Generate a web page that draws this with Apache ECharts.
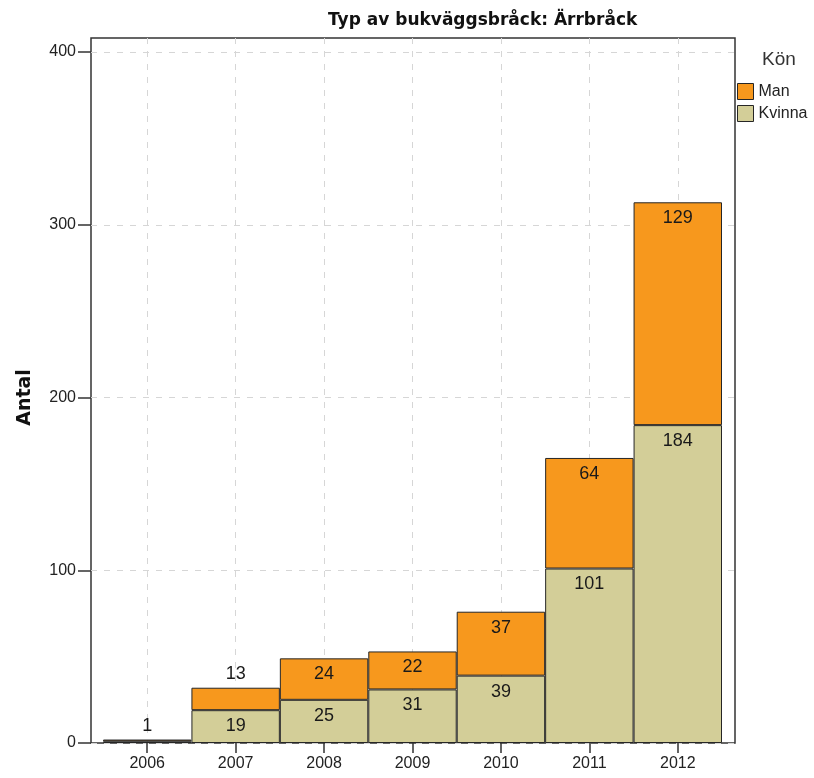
<!DOCTYPE html>
<html>
<head>
<meta charset="utf-8">
<title>Typ av bukväggsbråck: Ärrbråck</title>
<script src="https://cdn.jsdelivr.net/npm/echarts@6/dist/echarts.min.js"></script>
<style>
  html, body { margin: 0; padding: 0; background: #fff; }
  #chart { width: 814px; height: 778px; }
</style>
</head>
<body>
<div id="chart"></div>
<script>
  // data
  const years = ['2006', '2007', '2008', '2009', '2010', '2011', '2012'];
  const kvinna = [1, 19, 25, 31, 39, 101, 184];
  const man = [1, 13, 24, 22, 37, 64, 129];
  const yMin = 0;
  const yMax = 400;
  const yStep = 100;

  const orange = '#f7981d';
  const khaki = '#d3ce98';
  const edge = '#262626';
  const gridLine = { type: [6, 7], width: 1, color: '#d6d6d6' };

  // the plot frame runs a bit above the last tick (400 -> ~408)
  const frameTop = 38, tickTop = 52, plotBottom = 35;
  const frameMax = yMax * (778 - plotBottom - frameTop) / (778 - plotBottom - tickTop);

  // segment labels: inside top; the top segment goes above the bar when too thin,
  // a thin lower segment gets no label
  function segLabels(vals, onTop) {
    return vals.map(v => {
      const item = { value: v };
      if (onTop && v < 18) {
        item.label = { position: 'top', distance: 5 };
      } else if (!onTop && v < 5) {
        item.label = { show: false };
      }
      return item;
    });
  }

  const labelStyle = {
    show: true,
    position: 'insideTop',
    distance: 7,
    color: '#1a1a1a',
    fontSize: 18,
    fontFamily: 'Liberation Sans, Arial, sans-serif'
  };

  const chart = echarts.init(document.getElementById('chart'));
  const option = {
    backgroundColor: '#fff',
    animation: false,
    title: [{
      text: 'Typ av bukväggsbråck: Ärrbråck',
      left: 323,
      top: 7,
      textStyle: { fontFamily: 'DejaVu Sans', fontWeight: 'bold', fontSize: 17, color: '#111' }
    }, {
      text: 'Kön',
      left: 757,
      top: 45,
      textStyle: { fontFamily: 'Liberation Sans, Arial', fontWeight: 'normal', fontSize: 19, color: '#333' }
    }],
    legend: {
      data: ['Man', 'Kvinna'],
      orient: 'vertical',
      left: 732,
      top: 78,
      itemWidth: 16,
      itemHeight: 16,
      itemGap: 5,
      icon: 'rect',
      textStyle: { fontFamily: 'Liberation Sans, Arial', fontSize: 16, color: '#222' },
      itemStyle: { borderColor: edge, borderWidth: 1 }
    },
    grid: [
      // frame
      { left: 91, right: 79, top: frameTop, bottom: plotBottom, show: true, borderColor: '#333', borderWidth: 1.5 },
      // y axis with ticks 0..400
      { left: 91, right: 79, top: tickTop, bottom: plotBottom },
      // bars, inset from the frame
      { left: 103, right: 92, top: frameTop, bottom: plotBottom }
    ],
    xAxis: [
      { gridIndex: 0, type: 'value', show: false },
      { gridIndex: 1, type: 'value', show: false },
      {
        gridIndex: 2,
        type: 'category',
        data: years,
        axisLine: { show: false },
        axisTick: { show: true, alignWithLabel: true, length: 10, lineStyle: { color: '#333', width: 1.5 } },
        axisLabel: { margin: 13, color: '#222', fontSize: 16, fontFamily: 'Liberation Sans, Arial' },
        splitLine: { show: true, alignWithLabel: true, lineStyle: gridLine }
      }
    ],
    yAxis: [
      { gridIndex: 0, type: 'value', show: false, min: 0, max: 1 },
      {
        gridIndex: 1,
        type: 'value',
        min: yMin,
        max: yMax,
        interval: yStep,
        name: 'Antal',
        nameLocation: 'middle',
        nameGap: 56,
        nameTextStyle: { fontFamily: 'DejaVu Sans', fontWeight: 'bold', fontSize: 19, color: '#111' },
        axisLine: { show: false },
        axisTick: { show: true, length: 13, lineStyle: { color: '#333', width: 1.5 } },
        axisLabel: { margin: 15, color: '#222', fontSize: 16, fontFamily: 'Liberation Sans, Arial' },
        splitLine: { show: true, lineStyle: gridLine }
      },
      { gridIndex: 2, type: 'value', show: false, min: yMin, max: frameMax }
    ],
    series: [{
      name: 'Kvinna',
      type: 'bar',
      stack: 'kon',
      xAxisIndex: 2,
      yAxisIndex: 2,
      barWidth: '100%',
      data: segLabels(kvinna, false),
      itemStyle: { color: khaki, borderColor: edge, borderWidth: 1 },
      label: labelStyle
    }, {
      name: 'Man',
      type: 'bar',
      stack: 'kon',
      xAxisIndex: 2,
      yAxisIndex: 2,
      barWidth: '100%',
      data: segLabels(man, true),
      itemStyle: { color: orange, borderColor: edge, borderWidth: 1 },
      label: labelStyle
    }]
  };
  chart.setOption(option);
</script>
</body>
</html>
